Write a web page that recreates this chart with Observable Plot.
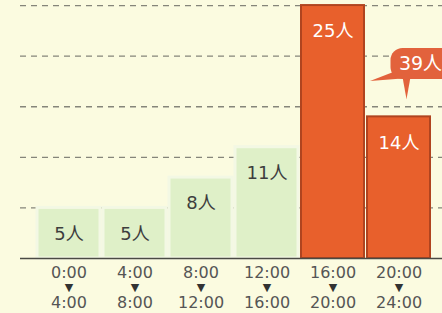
<!DOCTYPE html>
<html>
<head>
<meta charset="utf-8">
<script src="https://cdn.jsdelivr.net/npm/d3@7"></script>
<script src="https://cdn.jsdelivr.net/npm/@observablehq/plot@0.6"></script>
<style>
  html, body { margin: 0; padding: 0; background: #fbfbe0; }
  #chart svg { display: block; }
</style>
</head>
<body>
<div id="chart"></div>
<script>
const categories = ["0:00-4:00", "4:00-8:00", "8:00-12:00", "12:00-16:00", "16:00-20:00", "20:00-24:00"];
const startLabels = ["0:00", "4:00", "8:00", "12:00", "16:00", "20:00"];
const endLabels = ["4:00", "8:00", "12:00", "16:00", "20:00", "24:00"];
const values = [5, 5, 8, 11, 25, 14];
const highlighted = [false, false, false, false, true, true];
const gridTicks = [5, 10, 15, 20, 25];

const data = categories.map((c, i) => ({
  cat: c, start: startLabels[i], end: endLabels[i], value: values[i], hi: highlighted[i],
  label: values[i] + "人"
}));
const hiCats = data.filter(d => d.hi).map(d => d.cat);
const total = d3.sum(data.filter(d => d.hi), d => d.value);

const FONT = "'DejaVu Sans', 'Noto Sans CJK JP', sans-serif";
const GREEN = "#dff0c8", ORANGE = "#e8602c", ORANGE_DARK = "#b0441f", BUBBLE = "#e2623c";

function bubble(index, scales) {
  const x = scales.x, y = scales.y;
  const bw = x.bandwidth ? x.bandwidth() : 0;
  const a = x(hiCats[0]), b = x(hiCats[1]);
  const aRight = a + bw;
  const bCenter = b + bw / 2;
  const top = y(20.75), bottom = y(17.7);
  const left = bCenter - 8;
  const g = d3.create("svg:g");
  g.append("path")
    .attr("d", `M${left + 8},${bottom - 9} L${aRight + 6},${y(17.5)} L${left + 18},${bottom - 1} Z`)
    .attr("fill", BUBBLE);
  g.append("path")
    .attr("d", `M${bCenter + 4},${bottom - 2} L${bCenter + 8},${y(15.7)} L${bCenter + 12},${bottom - 2} Z`)
    .attr("fill", BUBBLE);
  g.append("rect")
    .attr("x", left).attr("y", top)
    .attr("width", 70).attr("height", bottom - top)
    .attr("rx", 12).attr("fill", BUBBLE);
  g.append("text")
    .attr("x", left + 30).attr("y", (top + bottom) / 2)
    .attr("dy", "0.36em")
    .attr("text-anchor", "middle")
    .attr("fill", "white")
    .attr("font-size", 19)
    .attr("font-family", FONT)
    .text(total + "人");
  return g.node();
}

const chart = Plot.plot({
  width: 442,
  height: 313,
  marginTop: 0,
  marginLeft: 20,
  marginRight: 0,
  marginBottom: 55,
  style: { background: "transparent", fontFamily: FONT },
  x: { domain: categories, range: [32, 434], padding: 0.05, axis: null },
  y: { domain: [0, 25.5], axis: null },
  marks: [
    Plot.ruleY(gridTicks, { stroke: "#85857a", strokeWidth: 1.3, strokeDasharray: "6,5" }),
    Plot.barY(data.filter(d => !d.hi), { x: "cat", y: "value", fill: GREEN, stroke: "#f3f8e4", strokeWidth: 3 }),
    Plot.barY(data.filter(d => d.hi), { x: "cat", y: "value", fill: ORANGE, stroke: ORANGE_DARK, strokeWidth: 2 }),
    Plot.ruleY([0], { stroke: "#4a4a44", strokeWidth: 1.5 }),
    Plot.text(data, { x: "cat", y: "value", text: "label", dy: 26, fontSize: 18,
      fill: d => d.hi ? "white" : "#3d3d3d" }),
    Plot.text(data, { x: "cat", y: () => 0, text: "start", dy: 14, fontSize: 16, fill: "#555" }),
    Plot.text(data, { x: "cat", y: () => 0, text: () => "▼", dy: 29, fontSize: 11, fill: "#333" }),
    Plot.text(data, { x: "cat", y: () => 0, text: "end", dy: 44, fontSize: 16, fill: "#555" }),
    bubble
  ]
});
document.getElementById("chart").append(chart);
</script>
</body>
</html>
